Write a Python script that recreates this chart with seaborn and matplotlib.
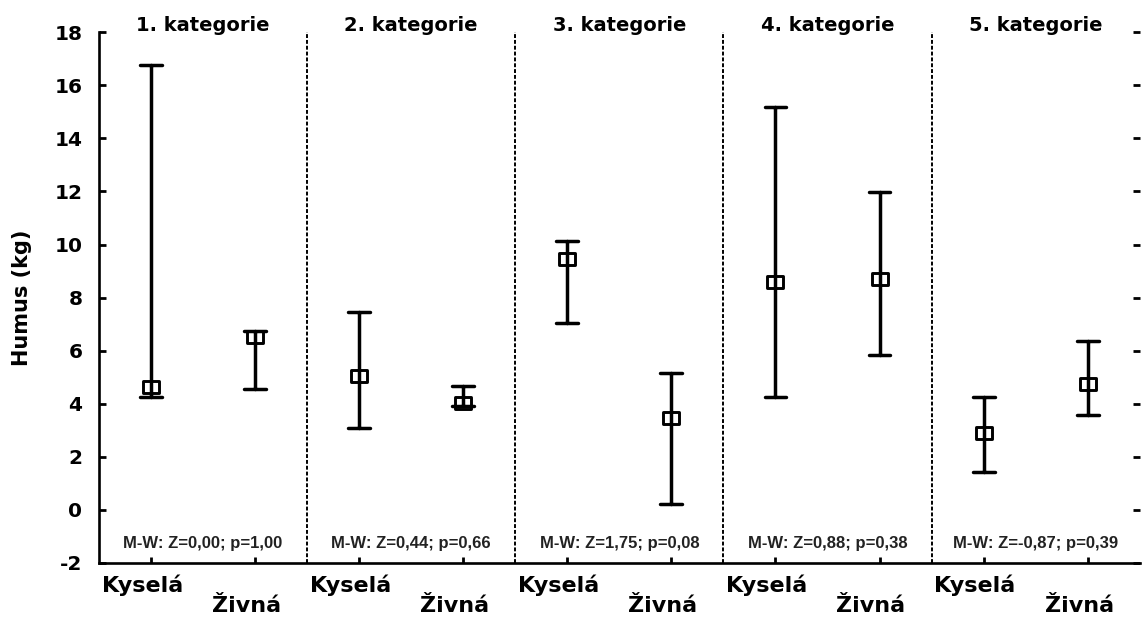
import numpy as np
import pandas as pd
import matplotlib
matplotlib.use("Agg")
import matplotlib.pyplot as plt
import matplotlib.transforms as mtransforms
from matplotlib.path import Path
import seaborn as sns

# Humus amount (kg) per category: median with lower / upper range
categories = ["1. kategorie", "2. kategorie", "3. kategorie", "4. kategorie", "5. kategorie"]
soil_types = ["Kyselá", "Živná"]
kysela_median = [4.63, 5.05, 9.44, 8.58, 2.88]
kysela_low = [4.25, 3.07, 7.03, 4.27, 1.44]
kysela_high = [16.78, 7.45, 10.14, 15.17, 4.24]
zivna_median = [6.52, 4.04, 3.45, 8.69, 4.76]
zivna_low = [4.57, 3.93, 0.23, 5.85, 3.57]
zivna_high = [6.73, 4.67, 5.17, 11.98, 6.36]
test_labels = ["M-W: Z=0,00; p=1,00", "M-W: Z=0,44; p=0,66", "M-W: Z=1,75; p=0,08",
               "M-W: Z=0,88; p=0,38", "M-W: Z=-0,87; p=0,39"]
y_ticks = list(range(-2, 19, 2))

# long-form table: each group holds its low / median / high value
rows = []
order = []
order_soil = []
for ci, cat in enumerate(categories):
    for soil, low, med, high in [
        ("Kyselá", kysela_low[ci], kysela_median[ci], kysela_high[ci]),
        ("Živná", zivna_low[ci], zivna_median[ci], zivna_high[ci]),
    ]:
        key = f"{cat}|{soil}"
        order.append(key)
        order_soil.append(soil)
        for v in (low, med, high):
            rows.append({"group": key, "soil": soil, "value": v})
df = pd.DataFrame(rows)

sns.set_theme(style="white")
plt.rcParams["font.family"] = ["DejaVu Sans"]
plt.rcParams["font.weight"] = "bold"

fig = plt.figure(figsize=(11.42, 6.19), dpi=100)
ax = fig.add_axes([0.0867, 0.0905, 0.9113, 0.8575])

box = Path([(-0.7, -0.5), (0.7, -0.5), (0.7, 0.5), (-0.7, 0.5), (-0.7, -0.5)],
           [Path.MOVETO, Path.LINETO, Path.LINETO, Path.LINETO, Path.CLOSEPOLY])

sns.pointplot(
    data=df, x="group", y="value", order=order,
    estimator="median", errorbar=lambda v: (v.min(), v.max()),
    color="black", linestyle="none", marker=box,
    markersize=12, markeredgewidth=2.1, markerfacecolor="none",
    linewidth=2.5, capsize=0.21, err_kws={"linewidth": 2.5},
    ax=ax,
)

ax.set_xlim(-0.5, len(order) - 0.5)
ax.set_ylim(-2, 18)
ax.set_yticks(y_ticks)
ax.set_yticklabels([str(t) for t in y_ticks], fontsize=14.5, fontweight="bold")

# separators between categories
for k in range(1, len(categories)):
    ax.axvline(2 * k - 0.5, color="black", lw=1.4, linestyle=(0, (2, 1)))

# category titles and test results
for ci, cat in enumerate(categories):
    xc = 2 * ci + 0.5
    ax.text(xc, 1.013, cat, transform=ax.get_xaxis_transform(), ha="center", va="center",
            fontsize=14, fontweight="bold", color="black")
    ax.text(xc, -1.28, test_labels[ci], ha="center", va="center", fontsize=12,
            fontweight="bold", color="#222222", family=["Liberation Sans", "DejaVu Sans"])

# staggered soil-type labels under the axis
ax.set_xticks(range(len(order)))
ax.set_xticklabels([""] * len(order))
for i, soil in enumerate(order_soil):
    drop = 29 if i % 2 == 0 else 49
    shift = mtransforms.ScaledTranslation(-8.5 / 100, -drop / 100, fig.dpi_scale_trans)
    ax.text(i, 0, soil, transform=ax.get_xaxis_transform() + shift,
            ha="center", va="baseline", fontsize=16, fontweight="bold", color="black")

ax.set_xlabel("")
ax.set_ylabel("Humus (kg)", fontsize=15, fontweight="bold", labelpad=16, color="black")

ax.tick_params(axis="y", which="both", direction="in", left=True, right=True,
               length=5, width=2, pad=12, colors="black")
ax.tick_params(axis="x", which="both", direction="in", bottom=True, length=4, width=2,
               pad=6, colors="black")
for side in ("top", "right"):
    ax.spines[side].set_visible(False)
for side in ("left", "bottom"):
    ax.spines[side].set_color("black")
    ax.spines[side].set_linewidth(1.9)

fig.savefig("out.png", dpi=100, facecolor="white")
